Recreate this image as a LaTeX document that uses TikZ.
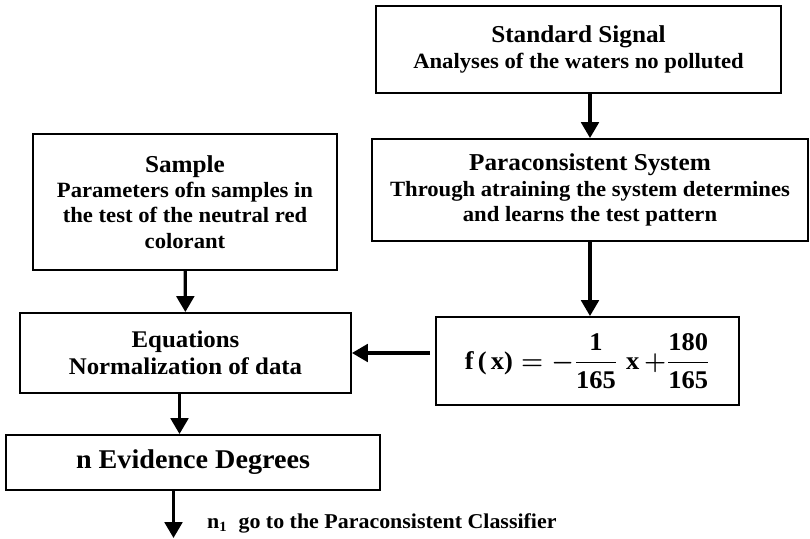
\documentclass[tikz,border=0pt]{standalone}
\usepackage{fontspec}
\setmainfont[FakeStretch=1.04]{Liberation Serif}
\usepackage{amsmath}
\usetikzlibrary{arrows.meta,positioning}

\newcommand{\headsize}{\fontsize{13.8}{15}\selectfont}
\newcommand{\subsize}{\fontsize{12.4}{14.4}\selectfont}

\begin{document}
\begin{tikzpicture}[
    every node/.style={font=\bfseries},
    box/.style={rectangle, draw, line width=1.1pt, align=center, inner sep=2pt, font=\subsize\bfseries},
    arrow/.style={-{Triangle[width=10pt,length=9pt]}, line width=1.8pt}
]
\useasboundingbox (0,0) rectangle (16.2,10.76);

% Right column
\node[box, minimum width=8.1cm, minimum height=1.74cm] (std) at (11.57,9.77) {{\headsize Standard Signal}\\ Analyses of the waters no polluted};
\node[box, minimum width=8.72cm, minimum height=2.04cm] (para) at (11.8,6.96) {{\headsize Paraconsistent System}\\ Through atraining the system determines\\ and learns the test pattern};
\node[box, minimum width=6.06cm, minimum height=1.76cm, font=\fontsize{14.5}{17}\selectfont\bfseries\boldmath] (fx) at (11.75,3.54) {$\text{f\,(\,x)}\;{=}\;{-}\dfrac{\text{1}}{\text{165}}\;\text{x}\,{+}\dfrac{\text{180}}{\text{165}}$};

% Left column
\node[box, minimum width=6.08cm, minimum height=2.72cm] (sample) at (3.70,6.72) {{\headsize Sample}\\ Parameters ofn samples in\\ the test of the neutral red\\ colorant};
\node[box, minimum width=6.62cm, minimum height=1.6cm, font=\fontsize{13.6}{15.5}\selectfont\bfseries] (eqs) at (3.71,3.70) {Equations\\ Normalization of data};
\node[box, minimum width=7.48cm, minimum height=1.1cm, font=\fontsize{15.4}{17}\selectfont\bfseries] (evid) at (3.86,1.51) {n Evidence Degrees};

% Output
\coordinate (out) at (3.47,0);
\node[anchor=west, font=\fontsize{12}{14}\selectfont\bfseries] (lbl) at (4.02,0.30) {n\textsubscript{1}\ \ go to the Paraconsistent Classifier};

% Connections
\draw[arrow] (std.south -| para.north) -- (para.north);
\draw[arrow] (para.south) -- (para.south |- fx.north);
\draw[arrow] (sample) -- (eqs);
\draw[arrow, shorten <=0.1cm] (fx.west |- eqs) -- (eqs.east);
\draw[arrow] ([xshift=-0.12cm]eqs.south) -- ([xshift=-0.12cm]eqs.south |- evid.north);
\draw[arrow] (evid.south -| out) -- (out);

\end{tikzpicture}
\end{document}
